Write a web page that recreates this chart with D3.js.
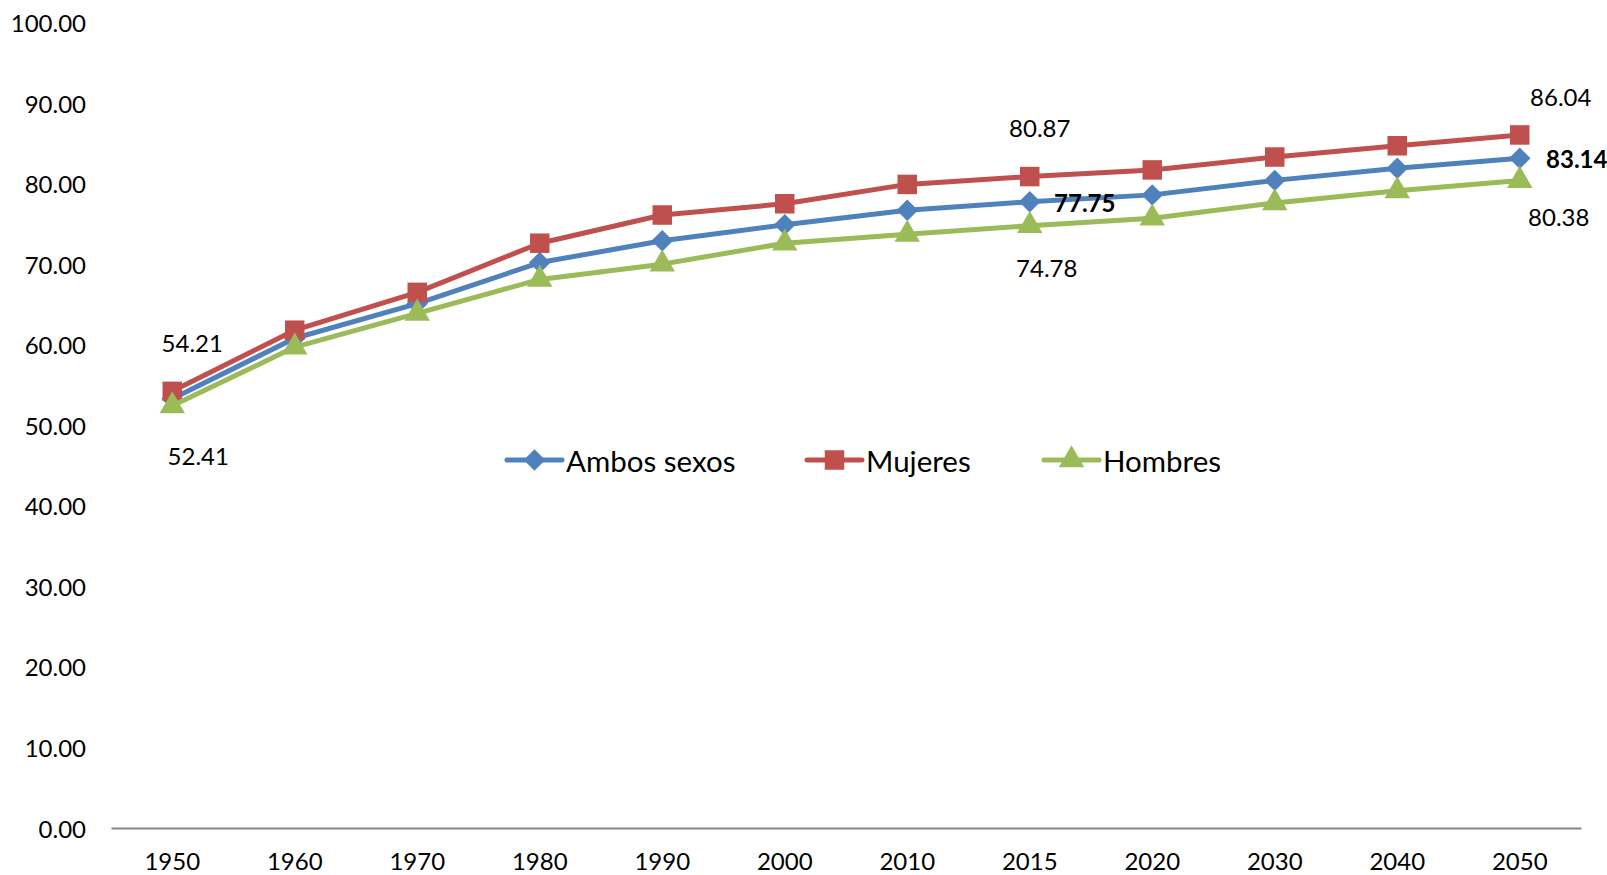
<!DOCTYPE html>
<html>
<head>
<meta charset="utf-8">
<script src="https://cdn.jsdelivr.net/npm/d3@7"></script>
<style>
  body { margin: 0; background: #fff; }
  text { font-family: Lato, "Open Sans", sans-serif; fill: #000; }
</style>
</head>
<body>
<div id="chart"></div>
<script>
var width = 1607,
    height = 875;

var years = ["1950", "1960", "1970", "1980", "1990", "2000", "2010", "2015", "2020", "2030", "2040", "2050"];
var ambos = [53.3, 60.8, 65.1, 70.2, 72.9, 74.9, 76.7, 77.75, 78.6, 80.4, 81.9, 83.14];
var mujeres = [54.21, 61.8, 66.5, 72.6, 76.1, 77.5, 79.9, 80.87, 81.7, 83.3, 84.7, 86.04];
var hombres = [52.41, 59.7, 63.9, 68.1, 70.0, 72.6, 73.7, 74.78, 75.7, 77.6, 79.1, 80.38];
var yTicks = [0, 10, 20, 30, 40, 50, 60, 70, 80, 90, 100];
var seriesNames = ["Ambos sexos", "Mujeres", "Hombres"];

// square diamond like the excel marker
var squareDiamond = {
  draw: function (context, size) {
    var r = Math.sqrt(size / 2);
    context.moveTo(0, -r);
    context.lineTo(r, 0);
    context.lineTo(0, r);
    context.lineTo(-r, 0);
    context.closePath();
  }
};

var series = [
  { name: seriesNames[0], values: ambos, color: "#4f81bd", symbol: squareDiamond, size: 230 },
  { name: seriesNames[1], values: mujeres, color: "#c0504d", symbol: d3.symbolSquare, size: 380 },
  { name: seriesNames[2], values: hombres, color: "#9bbb59", symbol: d3.symbolTriangle, size: 280 }
];

// labelled points (series index, year index, offset, bold)
var labels = [
  { s: 1, i: 0, dx: 20, dy: -49 },
  { s: 2, i: 0, dx: 26, dy: 50 },
  { s: 1, i: 7, dx: 10, dy: -49 },
  { s: 0, i: 7, dx: 55, dy: 1, bold: true },
  { s: 2, i: 7, dx: 17, dy: 42 },
  { s: 1, i: 11, dx: 41, dy: -38 },
  { s: 0, i: 11, dx: 57, dy: 0, bold: true },
  { s: 2, i: 11, dx: 39, dy: 36 }
];

var x = d3.scaleBand().domain(years).range([111, 1581]);
var y = d3.scaleLinear().domain([0, 100]).range([828, 22.5]);

var svg = d3.select("#chart").append("svg")
    .attr("width", width)
    .attr("height", height);

// y axis labels
svg.selectAll(".ytick")
    .data(yTicks)
    .enter().append("text")
    .attr("class", "ytick")
    .attr("x", 86)
    .attr("y", function (d) { return y(d); })
    .attr("text-anchor", "end")
    .attr("dominant-baseline", "central")
    .style("font-size", "24px")
    .text(function (d) { return d.toFixed(2); });

// x axis
var xAxis = svg.append("g")
    .attr("transform", "translate(0," + y(0) + ")")
    .call(d3.axisBottom(x).tickSize(0).tickPadding(25));
xAxis.select(".domain").attr("stroke", "#868686").attr("stroke-width", 2);
xAxis.selectAll("text")
    .style("font-family", "Lato, sans-serif")
    .style("font-size", "24px")
    .attr("fill", "#000");

var line = d3.line()
    .x(function (d, i) { return x(years[i]) + x.bandwidth() / 2; })
    .y(function (d) { return y(d); });

[0, 1, 2].forEach(function (k) {
  var s = series[k];
  svg.append("path")
      .datum(s.values)
      .attr("fill", "none")
      .attr("stroke", s.color)
      .attr("stroke-width", 5)
      .attr("stroke-linejoin", "round")
      .attr("d", line);
  svg.selectAll(".m" + k)
      .data(s.values)
      .enter().append("path")
      .attr("class", "m" + k)
      .attr("fill", s.color)
      .attr("transform", function (d, i) {
        return "translate(" + (x(years[i]) + x.bandwidth() / 2) + "," + y(d) + ")";
      })
      .attr("d", d3.symbol().type(s.symbol).size(s.size));
});

// data labels
svg.selectAll(".dlabel")
    .data(labels)
    .enter().append("text")
    .attr("class", "dlabel")
    .attr("x", function (d) { return x(years[d.i]) + x.bandwidth() / 2 + d.dx; })
    .attr("y", function (d) { return y(series[d.s].values[d.i]) + d.dy; })
    .attr("text-anchor", "middle")
    .attr("dominant-baseline", "central")
    .style("font-size", "24px")
    .style("font-weight", function (d) { return d.bold ? "bold" : "normal"; })
    .text(function (d) { return series[d.s].values[d.i].toFixed(2); });

// legend
var legendX = [507, 807, 1044];
var legend = svg.selectAll(".legend")
    .data(series)
    .enter().append("g")
    .attr("class", "legend")
    .attr("transform", function (d, i) { return "translate(" + legendX[i] + ",460)"; });
legend.append("line")
    .attr("x1", 0).attr("x2", 55)
    .attr("stroke", function (d) { return d.color; })
    .attr("stroke-width", 5)
    .attr("stroke-linecap", "round");
legend.append("path")
    .attr("transform", "translate(27.5,0)")
    .attr("fill", function (d) { return d.color; })
    .attr("d", function (d) { return d3.symbol().type(d.symbol).size(d.size)(); });
legend.append("text")
    .attr("x", 59)
    .attr("dominant-baseline", "central")
    .style("font-size", "29.5px")
    .text(function (d) { return d.name; });
</script>
</body>
</html>
